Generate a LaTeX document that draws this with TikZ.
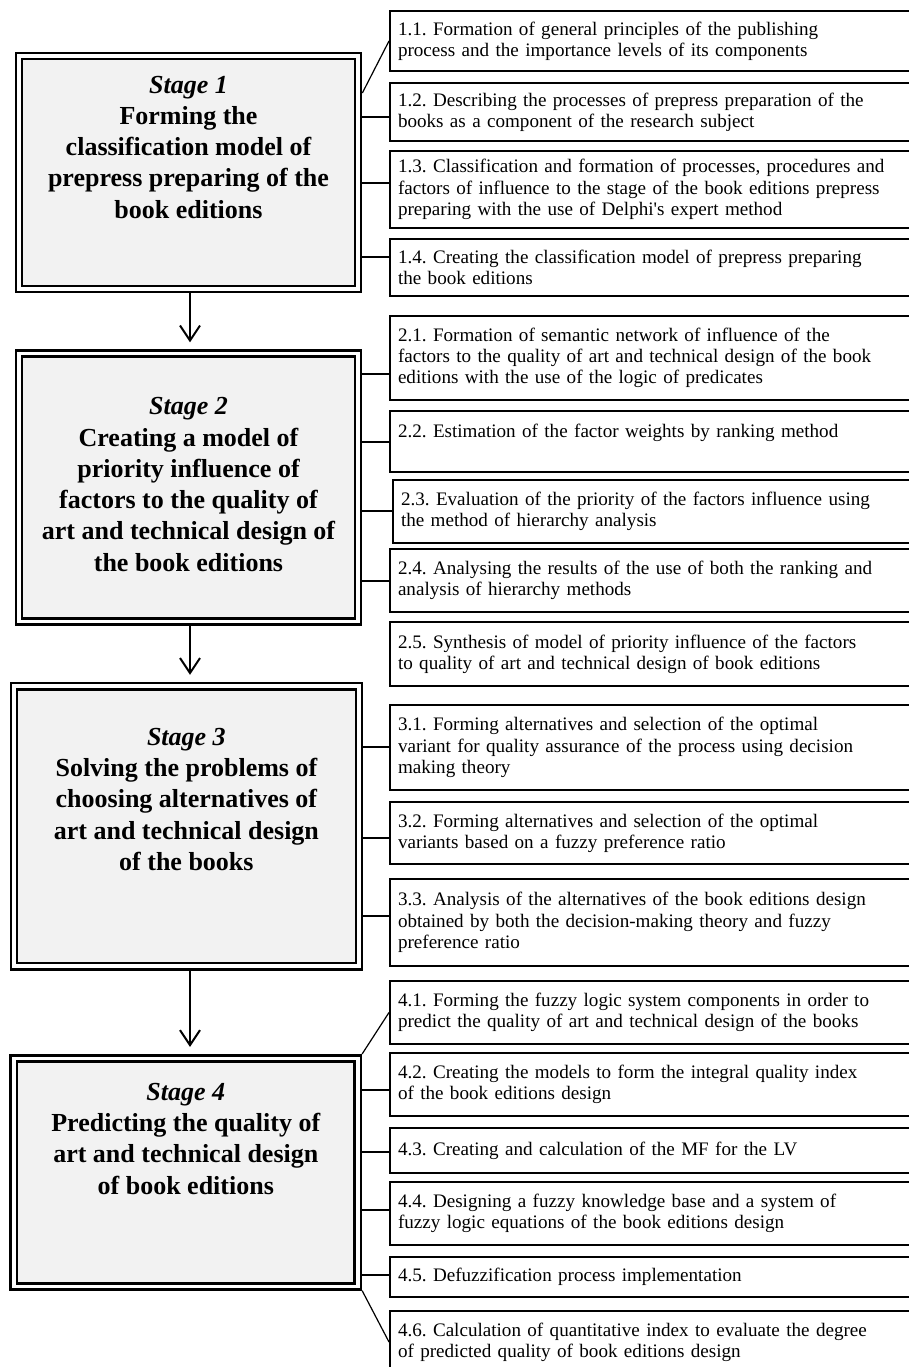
\documentclass[tikz,border=0pt]{standalone}
\usepackage{fontspec}
\setmainfont{Liberation Serif}
\usepackage{xcolor}
\usetikzlibrary{arrows.meta,positioning}
\definecolor{stagefill}{HTML}{F2F2F2}
\frenchspacing
\tikzset{
  stagebox/.style={draw,double=white,double distance=3.5pt,line width=2.6pt,fill=stagefill,inner sep=0pt,outer sep=4.35pt},
  stagetext/.style={font=\fontsize{26}{31.3}\selectfont\bfseries,align=center,inner sep=0pt},
  taskbox/.style={draw,line width=2pt,anchor=north west,text width=540pt,align=left,inner xsep=8pt,inner ysep=0pt,font=\fontsize{19.1}{21.3}\selectfont},
  link/.style={line width=1.2pt},
  flow/.style={line width=2pt,shorten >=7pt,-{Straight Barb[length=15pt,width=20pt]}}
}

\begin{document}
\begin{tikzpicture}[x=1pt,y=-1pt]
  \useasboundingbox (0,0) rectangle (908,1367);
  % stages
  \node[stagebox,minimum width=339pt,minimum height=233pt] (s1) at (188.5,172.5) {};
  \node[stagebox,minimum width=339pt,minimum height=268pt] (s2) at (188.5,487.7) {};
  \node[stagebox,minimum width=345pt,minimum height=280pt] (s3) at (186.4,826.2) {};
  \node[stagebox,minimum width=344pt,minimum height=228pt] (s4) at (185.8,1172.3) {};
  \node[stagetext,below=24pt of s1.north] (s1t) {\textit{Stage 1}\\Forming the\\classification model of\\prepress preparing of the\\book editions};
  \node[stagetext,below=48pt of s2.north] (s2t) {\textit{Stage 2}\\Creating a model of\\priority influence of\\factors to the quality of\\art and technical design of\\the book editions};
  \node[stagetext,below=46pt of s3.north] (s3t) {\textit{Stage 3}\\Solving the problems of\\choosing alternatives of\\art and technical design\\of the books};
  \node[stagetext,below=29pt of s4.north] (s4t) {\textit{Stage 4}\\Predicting the quality of\\art and technical design\\of book editions};
  \draw[flow] ([xshift=1.5pt]s1.south) -- ([xshift=1.5pt]s1.south |- s2.north);
  \draw[flow] ([xshift=1.5pt]s2.south) -- ([xshift=1.5pt]s2.south |- s3.north);
  \draw[flow] ([xshift=3.6pt]s3.south) -- ([xshift=3.6pt]s3.south |- s4.north);
  % tasks of stage 1
  \node[taskbox,minimum height=60pt] (t11) at (389,10) {1.1. Formation of general principles of the publishing\\process and the importance levels of its components};
  \node[taskbox,minimum height=58pt] (t12) at (389,82) {1.2. Describing the processes of prepress preparation of the\\books as a component of the research subject};
  \node[taskbox,minimum height=77pt] (t13) at (389,150) {1.3. Classification and formation of processes, procedures and\\factors of influence to the stage of the book editions prepress\\preparing with the use of Delphi\textquotesingle s expert method};
  \node[taskbox,minimum height=57pt] (t14) at (389,238) {1.4. Creating the classification model of prepress preparing\\the book editions};
  % tasks of stage 2
  \node[taskbox,minimum height=84pt] (t21) at (389,315) {2.1. Formation of semantic network of influence of the\\factors to the quality of art and technical design of the book\\editions with the use of the logic of predicates};
  \node[taskbox,minimum height=61pt] (t22) at (389,410) {2.2. Estimation of the factor weights by ranking method\\\mbox{}};
  \node[taskbox,minimum height=63pt] (t23) at (392,479) {2.3. Evaluation of the priority of the factors influence using\\the method of hierarchy analysis};
  \node[taskbox,minimum height=63pt] (t24) at (389,548) {2.4. Analysing the results of the use of both the ranking and\\analysis of hierarchy methods};
  \node[taskbox,minimum height=64pt] (t25) at (389,621) {2.5. Synthesis of model of priority influence of the factors\\to quality of art and technical design of book editions};
  % tasks of stage 3
  \node[taskbox,minimum height=85pt] (t31) at (389,704) {3.1. Forming alternatives and selection of the optimal\\variant for quality assurance of the process using decision\\making theory};
  \node[taskbox,minimum height=62pt] (t32) at (389,801) {3.2. Forming alternatives and selection of the optimal\\variants based on a fuzzy preference ratio};
  \node[taskbox,minimum height=87pt] (t33) at (389,878) {3.3. Analysis of the alternatives of the book editions design\\obtained by both the decision-making theory and fuzzy\\preference ratio};
  % tasks of stage 4
  \node[taskbox,minimum height=63pt] (t41) at (389,980) {4.1. Forming the fuzzy logic system components in order to\\predict the quality of art and technical design of the books};
  \node[taskbox,minimum height=63pt] (t42) at (389,1052) {4.2. Creating the models to form the integral quality index\\of the book editions design};
  \node[taskbox,minimum height=45pt] (t43) at (389,1127) {4.3. Creating and calculation of the MF for the LV};
  \node[taskbox,minimum height=63pt] (t44) at (389,1181) {4.4. Designing a fuzzy knowledge base and a system of\\fuzzy logic equations of the book editions design};
  \node[taskbox,minimum height=40pt] (t45) at (389,1256) {4.5. Defuzzification process implementation};
  \node[taskbox,minimum height=62pt] (t46) at (389,1310) {4.6. Calculation of quantitative index to evaluate the degree\\of predicted quality of book editions design};
  % links
  \draw[link] (s1.east |- 0,93) -- (t11.west);
  \draw[link] (s1.east |- 0,117) -- (t12.west |- 0,117);
  \draw[link] (s1.east |- 0,183) -- (t13.west |- 0,183);
  \draw[link] (s1.east |- 0,257) -- (t14.west |- 0,257);
  \draw[link] (s2.east |- 0,374) -- (t21.west |- 0,374);
  \draw[link] (s2.east |- 0,442) -- (t22.west |- 0,442);
  \draw[link] (s2.east |- 0,511) -- (t23.west |- 0,511);
  \draw[link] (s2.east |- 0,581) -- (t24.west |- 0,581);
  \draw[link] (s3.east |- 0,747) -- (t31.west |- 0,747);
  \draw[link] (s3.east |- 0,838) -- (t32.west |- 0,838);
  \draw[link] (s3.east |- 0,916) -- (t33.west |- 0,916);
  \draw[link] (s4.north east) -- (t41.west);
  \draw[link] (s4.east |- 0,1090) -- (t42.west |- 0,1090);
  \draw[link] (s4.east |- 0,1152) -- (t43.west |- 0,1152);
  \draw[link] (s4.east |- 0,1210) -- (t44.west |- 0,1210);
  \draw[link] (s4.east |- 0,1275) -- (t45.west |- 0,1275);
  \draw[link] (s4.south east) -- (t46.west);
\end{tikzpicture}
\end{document}
